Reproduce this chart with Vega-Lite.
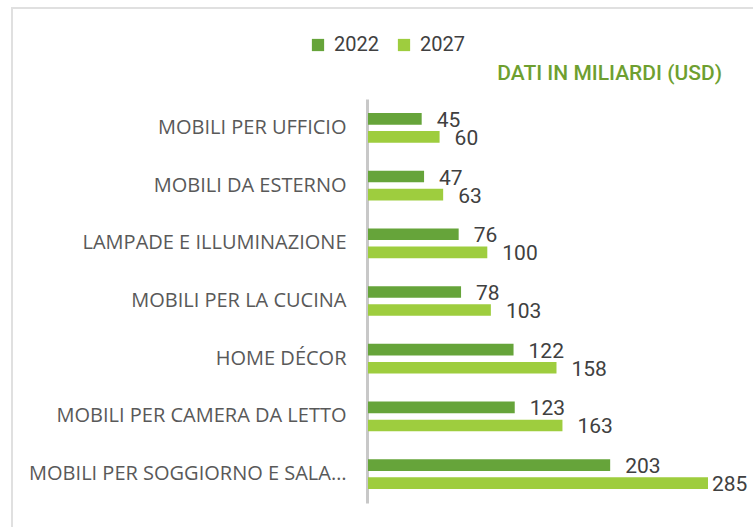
{
  "$schema": "https://vega.github.io/schema/vega-lite/v6.json",
  "autosize": {"type": "none"},
  "padding": {"left": 12, "top": 8, "right": 0, "bottom": 0},
  "width": 743,
  "height": 522,
  "background": "white",
  "config": {
    "view": {"stroke": "#e0e0e0", "strokeWidth": 2},
    "font": "Roboto"
  },
  "title": {
    "text": "DATI IN MILIARDI (USD)",
    "anchor": "end",
    "frame": "group",
    "color": "#6e9f30",
    "font": "Roboto",
    "fontSize": 21,
    "fontWeight": 500,
    "offset": 0,
    "dx": -33,
    "dy": 76
  },
  "data": {
    "values": [
      {"categoria": "MOBILI PER UFFICIO", "anno": "2022", "valore": 45},
      {"categoria": "MOBILI PER UFFICIO", "anno": "2027", "valore": 60},
      {"categoria": "MOBILI DA ESTERNO", "anno": "2022", "valore": 47},
      {"categoria": "MOBILI DA ESTERNO", "anno": "2027", "valore": 63},
      {"categoria": "LAMPADE E ILLUMINAZIONE ", "anno": "2022", "valore": 76},
      {"categoria": "LAMPADE E ILLUMINAZIONE ", "anno": "2027", "valore": 100},
      {"categoria": "MOBILI PER LA CUCINA", "anno": "2022", "valore": 78},
      {"categoria": "MOBILI PER LA CUCINA", "anno": "2027", "valore": 103},
      {"categoria": "HOME DÉCOR", "anno": "2022", "valore": 122},
      {"categoria": "HOME DÉCOR", "anno": "2027", "valore": 158},
      {"categoria": "MOBILI PER CAMERA DA LETTO", "anno": "2022", "valore": 123},
      {"categoria": "MOBILI PER CAMERA DA LETTO", "anno": "2027", "valore": 163},
      {"categoria": "MOBILI PER SOGGIORNO E SALA…", "anno": "2022", "valore": 203},
      {"categoria": "MOBILI PER SOGGIORNO E SALA…", "anno": "2027", "valore": 285}
    ]
  },
  "encoding": {
    "y": {
      "field": "categoria",
      "type": "nominal",
      "sort": null,
      "scale": {"range": [91, 495], "paddingInner": 0.485, "paddingOuter": 0.2425},
      "axis": {
        "title": null,
        "orient": "left",
        "offset": -355,
        "ticks": false,
        "domainColor": "#c8c8c8",
        "domainWidth": 3,
        "labelFont": "Open Sans",
        "labelFontSize": 20,
        "labelFontWeight": "normal",
        "labelColor": "#595959",
        "labelPadding": 21,
        "labelLimit": 400
      }
    },
    "yOffset": {
      "field": "anno",
      "type": "nominal",
      "scale": {"paddingInner": 0.355, "paddingOuter": 0}
    },
    "x": {
      "field": "valore",
      "type": "quantitative",
      "scale": {"domain": [0, 285], "range": [356, 696], "zero": true, "nice": false},
      "axis": null
    }
  },
  "layer": [
    {
      "mark": {"type": "bar"},
      "encoding": {
        "fill": {
          "field": "anno",
          "type": "nominal",
          "scale": {"domain": ["2022", "2027"], "range": ["#66a43a", "#9ecd3e"]},
          "legend": {
            "title": null,
            "orient": "none",
            "legendX": 296,
            "legendY": 27,
            "direction": "horizontal",
            "symbolType": "square",
            "symbolSize": 150,
            "symbolStrokeWidth": 0,
            "labelFont": "Roboto",
            "labelFontSize": 20,
            "labelFontWeight": "normal",
            "labelColor": "#404040",
            "labelOffset": 6,
            "columnPadding": 15
          }
        }
      }
    },
    {
      "transform": [{"filter": "datum.valore < 280"}],
      "mark": {"type": "text", "align": "left", "baseline": "middle", "dx": 15, "dy": 2, "font": "Roboto", "fontSize": 21, "fontWeight": "normal", "color": "#404040"},
      "encoding": {"text": {"field": "valore", "type": "quantitative"}}
    },
    {
      "transform": [{"filter": "datum.valore >= 280"}],
      "mark": {"type": "text", "align": "left", "baseline": "middle", "dx": 4, "dy": 2, "font": "Roboto", "fontSize": 21, "fontWeight": "normal", "color": "#404040"},
      "encoding": {"text": {"field": "valore", "type": "quantitative"}}
    }
  ]
}
